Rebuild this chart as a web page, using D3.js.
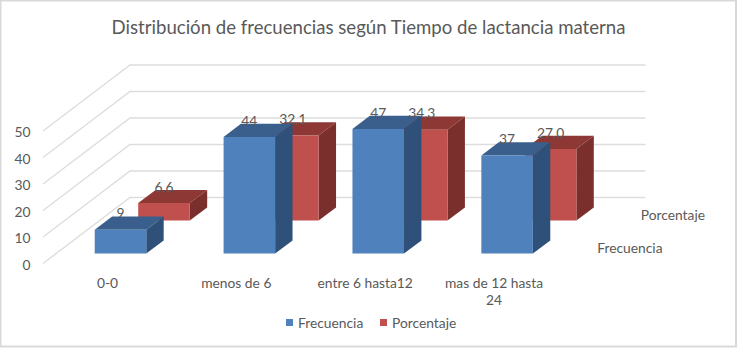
<!DOCTYPE html>
<html><head><meta charset="utf-8">
<script src="https://cdn.jsdelivr.net/npm/d3@7"></script>
<style>html,body{margin:0;padding:0;background:#fff}svg{display:block}text{font-family:Lato,sans-serif;fill:#595959}</style>
</head><body><svg id="c" width="737" height="348"></svg>
<script>
const title = "Distribución de frecuencias según Tiempo de lactancia materna";
const categories = ["0-0","menos de 6","entre 6 hasta12","mas de 12 hasta 24"];
const seriesNames = ["Frecuencia","Porcentaje"];
const frecuencia = [9,44,47,37];
const porcentaje = [6.6,32.1,34.3,27.0];
const valueTicks = [0,10,20,30,40,50];
const seriesValues = {Frecuencia:frecuencia,Porcentaje:porcentaje};
const colors = {
  Frecuencia:{front:"#4F81BD",top:"#3A5F8D",side:"#2F5078"},
  Porcentaje:{front:"#C0504D",top:"#8E3836",side:"#7B2F2D"}
};
const W=737,H=348,svg=d3.select("#c");
const DX=87,DY=66,LEFT=43,RIGHT=558.5;
const FS="13.8px";
const x=d3.scaleBand().domain(categories).range([LEFT,RIGHT]).paddingInner(.6).paddingOuter(.3);
const y=d3.scaleLinear().domain([0,50]).range([263.5,131]);
const z=d3.scaleBand().domain(seriesNames).range([0,1]).paddingInner(.6).paddingOuter(.3);
const P=(px,v,d)=>[px+d*DX,y(v)-d*DY];
const poly=(pts)=>pts.map(p=>p.join(",")).join(" ");

svg.append("rect").attr("x",.5).attr("y",.5).attr("width",W-1.5).attr("height",H-2).attr("fill","#fff").attr("stroke","#D9D9D9").attr("stroke-width",2);
svg.append("text").attr("x",368.5).attr("y",34).attr("text-anchor","middle").style("font-size","18.6px").text(title);

// walls
const gridG=svg.append("g");
valueTicks.forEach(v=>{
  gridG.append("polyline").attr("fill","none").attr("stroke","#DDDDDD").attr("stroke-width",1.4)
    .attr("points",poly([P(LEFT,v,0),P(LEFT,v,1),P(RIGHT,v,1)]));
});
// value axis
const yAxis=svg.append("g").attr("transform",`translate(${LEFT-12.5},1.5)`).call(d3.axisLeft(y).tickValues(valueTicks).tickSize(0).tickPadding(0));
yAxis.select(".domain").remove();
yAxis.selectAll("text").style("font-size",FS);
// bars, back series first
[...seriesNames].reverse().forEach(s=>{
  const c=colors[s],z0=z(s),z1=z0+z.bandwidth();
  categories.forEach((cat,i)=>{
    const v=seriesValues[s][i],x0=x(cat),x1=x0+x.bandwidth();
    const g=svg.append("g");
    g.append("polygon").attr("fill",c.top).attr("points",poly([P(x0,v,z0),P(x1,v,z0),P(x1,v,z1),P(x0,v,z1)]));
    g.append("polygon").attr("fill",c.side).attr("points",poly([P(x1,0,z0),P(x1,v,z0),P(x1,v,z1),P(x1,0,z1)]));
    g.append("polygon").attr("fill",c.front).attr("points",poly([P(x0,0,z0),P(x1,0,z0),P(x1,v,z0),P(x0,v,z0)]));
  });
});
// data labels
seriesNames.forEach(s=>{
  const z0=z(s);
  categories.forEach((cat,i)=>{
    const v=seriesValues[s][i],p=P(x(cat)+x.bandwidth()/2,v,z0);
    svg.append("text").attr("x",p[0]).attr("y",p[1]-11.5).attr("text-anchor","middle").style("font-size",FS)
      .text(s==="Porcentaje"?d3.format(".1f")(v).replace(".",","):v);
  });
});
// category axis
const xAxis=svg.append("g").attr("transform","translate(0,278)").call(d3.axisBottom(x).tickSize(0).tickPadding(0));
xAxis.select(".domain").remove();
xAxis.selectAll("text").style("font-size",FS).each(function(d){
  const t=d3.select(this),words=String(d).split(" ");
  if(String(d).length<16)return;
  t.text(null);
  t.append("tspan").attr("x",0).text(words.slice(0,-1).join(" "));
  t.append("tspan").attr("x",0).attr("dy","1.27em").text(words[words.length-1]);
});
// series (depth) axis labels
seriesNames.forEach(s=>{
  const p=P(RIGHT,0,z(s)+z.bandwidth()/2);
  svg.append("text").attr("x",p[0]+17).attr("y",p[1]+6).style("font-size",FS).text(s);
});
// legend
const legendX={Frecuencia:286,Porcentaje:380};
seriesNames.forEach(s=>{
  svg.append("rect").attr("x",legendX[s]).attr("y",319).attr("width",7).attr("height",7).attr("fill",colors[s].front);
  svg.append("text").attr("x",legendX[s]+12).attr("y",328).style("font-size",FS).text(s);
});
</script></body></html>
